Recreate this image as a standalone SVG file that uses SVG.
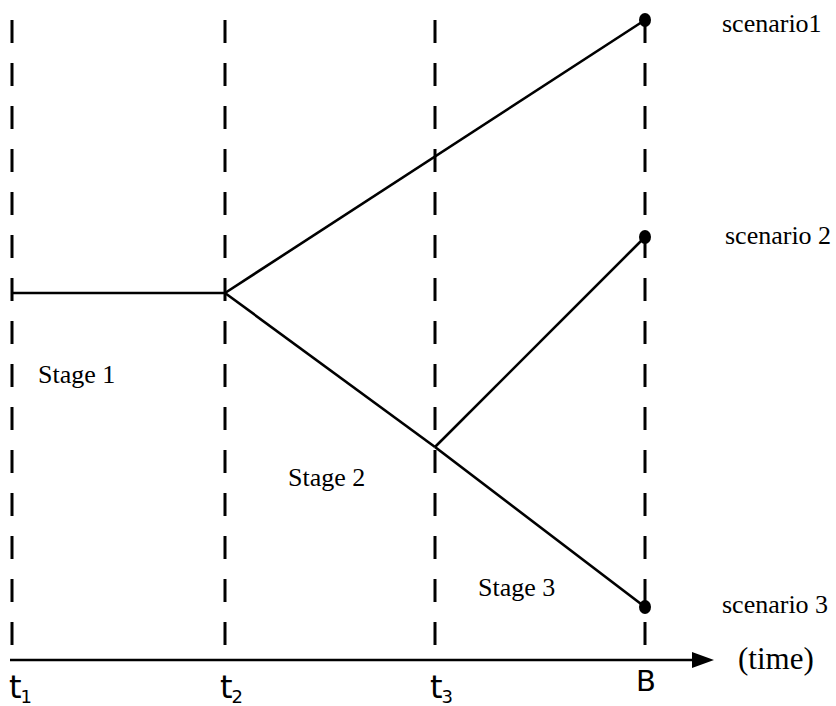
<svg xmlns="http://www.w3.org/2000/svg" width="836" height="706" viewBox="0 0 836 706">
<defs>
<style>
.dash{stroke:#000;stroke-width:3;stroke-dasharray:23 20;fill:none}
.ln{stroke:#000;stroke-width:2.6;fill:none}
.lbl{font-family:"Liberation Serif","Times New Roman",serif;font-size:26px;fill:#000}
.tl{font-family:"DejaVu Sans","Liberation Sans",sans-serif;font-size:32px;fill:#000}
.sub{font-family:"DejaVu Sans","Liberation Sans",sans-serif;font-size:18px;fill:#000}
</style>
</defs>
<rect width="836" height="706" fill="#fff"/>
<g id="gridlines">
<line class="dash" x1="12" y1="20" x2="12" y2="648"/>
<line class="dash" x1="225" y1="20" x2="225" y2="648"/>
<line class="dash" x1="435" y1="20" x2="435" y2="648"/>
<line class="dash" x1="645" y1="20" x2="645" y2="648"/>
</g>
<g id="axis">
<line x1="10" y1="660" x2="693" y2="660" stroke="#000" stroke-width="2.6"/>
<path d="M692,652 L714,660 L692,668 Z" fill="#000"/>
<text class="lbl" x="738" y="669" style="font-size:31px">(time)</text>
<text class="tl" x="9" y="698">t<tspan class="sub" dx="-1" dy="5">1</tspan></text>
<text class="tl" x="220" y="698">t<tspan class="sub" dx="-1" dy="5">2</tspan></text>
<text class="tl" x="430" y="698">t<tspan class="sub" dx="-1" dy="5">3</tspan></text>
<text class="tl" x="636" y="691" style="font-size:29px">B</text>
</g>
<g id="connectors">
<line class="ln" x1="12" y1="293" x2="225" y2="293"/>
<line class="ln" x1="225" y1="293" x2="645" y2="20"/>
<line class="ln" x1="225" y1="293" x2="435" y2="447"/>
<line class="ln" x1="435" y1="447" x2="645" y2="607"/>
<line class="ln" x1="435" y1="447" x2="645" y2="237"/>
</g>
<g id="scenario1">
<ellipse cx="645" cy="20" rx="6" ry="7" fill="#000"/>
<text class="lbl" x="722" y="32">scenario1</text>
</g>
<g id="scenario2">
<ellipse cx="645" cy="237" rx="6" ry="7" fill="#000"/>
<text class="lbl" x="725" y="244">scenario 2</text>
</g>
<g id="scenario3">
<ellipse cx="645" cy="607" rx="6" ry="7" fill="#000"/>
<text class="lbl" x="722" y="613">scenario 3</text>
</g>
<g id="stage1"><text class="lbl" x="38" y="383">Stage 1</text></g>
<g id="stage2"><text class="lbl" x="288" y="486">Stage 2</text></g>
<g id="stage3"><text class="lbl" x="478" y="596">Stage 3</text></g>
</svg>
